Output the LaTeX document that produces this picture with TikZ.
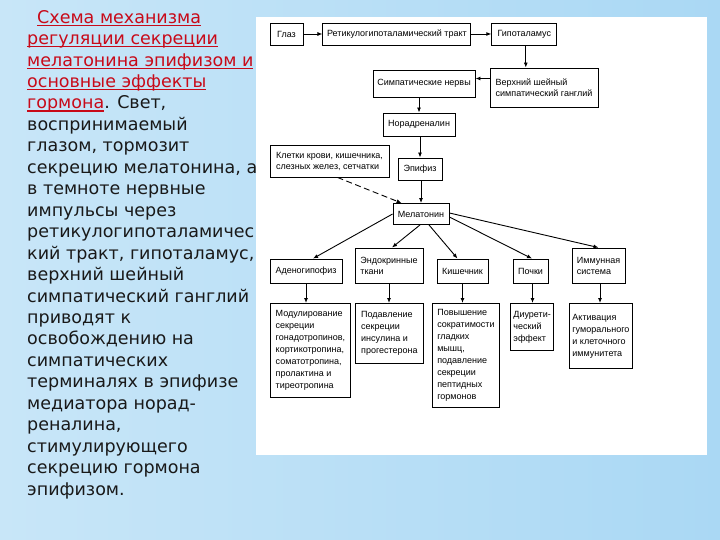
\documentclass[tikz,border=0pt]{standalone}
\usepackage{fontspec}
\setmainfont{DejaVu Sans}
\newfontfamily\boxfont{Liberation Sans}
\usepackage{xcolor}
\usetikzlibrary{arrows.meta,positioning}
\definecolor{titlered}{RGB}{200,10,25}
\definecolor{textdark}{RGB}{25,25,25}
\definecolor{bgleft}{RGB}{200,230,248}
\definecolor{bgright}{RGB}{170,216,244}
\newcommand\hl[1]{\textcolor{titlered}{\setbox0\hbox{#1}\rlap{\rule[-2.6pt]{\wd0}{1.1pt}}\box0}}

\begin{document}
\begin{tikzpicture}[x=1pt,y=-1pt,>={Latex[length=5pt,width=4pt]}]
\tikzstyle{box}=[rectangle,draw=black,line width=0.9pt,align=center,inner sep=2pt,font=\boxfont\fontsize{9}{11}\selectfont]
\tikzstyle{effect}=[box,align=left,anchor=north west,inner xsep=3pt,inner ysep=5pt,font=\boxfont\fontsize{9}{12}\selectfont]
\tikzstyle{link}=[->,line width=0.9pt]
\useasboundingbox (0,0) rectangle (720,540);
\shade[left color=bgleft,middle color=white,right color=bgright] (0,0) rectangle (720,540);
\fill[white] (256,17) rectangle (707,455);

\node[anchor=north west,align=left,inner sep=0pt,text=textdark,font=\fontsize{17.5}{21.45}\selectfont] (caption) at (27,10)
{\hspace*{10pt}\hl{Схема механизма}\\
\hl{регуляции секреции}\\
\hl{мелатонина эпифизом и}\\
\hl{основные эффекты}\\
\hl{гормона}. Свет,\\
воспринимаемый\\
глазом, тормозит\\
секрецию мелатонина, а\\
в темноте нервные\\
импульсы через\\
ретикулогипоталамичес\\
кий тракт, гипоталамус,\\
верхний шейный\\
симпатический ганглий\\
приводят к\\
освобождению на\\
симпатических\\
терминалях в эпифизе\\
медиатора норад-\\
реналина,\\
стимулирующего\\
секрецию гормона\\
эпифизом.};

\node[box,minimum width=33,minimum height=22] (glaz) at (286.5,34) {Глаз};
\node[box,minimum width=148,minimum height=22,right=19pt of glaz] (trakt) {Ретикулогипоталамический тракт};
\node[box,minimum width=65,minimum height=22,right=20pt of trakt] (gipo) {Гипоталамус};
\node[box,align=left,minimum width=108,minimum height=39] (gangl) at (544,87.5) {Верхний шейный\\симпатический ганглий};
\node[box,minimum width=102,minimum height=27] (nervy) at (424,83.5) {Симпатические нервы};
\node[box,minimum width=72,minimum height=23] (noradr) at (419,124.5) {Норадреналин};
\node[box,minimum width=44,minimum height=22] (epif) at (420,169) {Эпифиз};
\node[box,align=left,minimum width=119,minimum height=32] (kletki) at (329.5,161) {Клетки крови, кишечника,\\слезных желез, сетчатки};
\node[box,minimum width=56,minimum height=21] (melat) at (421,214) {Мелатонин};

\node[box,minimum width=72,minimum height=24] (adeno) at (306,271) {Аденогипофиз};
\node[box,align=left,minimum width=68,minimum height=35] (endo) at (389,265.5) {Эндокринные\\ткани};
\node[box,minimum width=51,minimum height=24] (kish) at (462.5,271) {Кишечник};
\node[box,minimum width=35,minimum height=24] (pochki) at (530.5,271) {Почки};
\node[box,align=left,minimum width=53,minimum height=35] (immun) at (598.5,265.5) {Иммунная\\система};

\node[effect,minimum width=80,minimum height=94] (modul) at (270,303) {Модулирование\\секреции\\гонадотропинов,\\кортикотропина,\\соматотропина,\\пролактина и\\тиреотропина};
\node[effect,minimum width=68,minimum height=60] (podav) at (355,303) {Подавление\\секреции\\инсулина и\\прогестерона};
\node[effect,minimum width=67,minimum height=104] (povysh) at (432,303) {Повышение\\сократимости\\гладких\\мышц,\\подавление\\секреции\\пептидных\\гормонов};
\node[effect,minimum width=43,minimum height=47] (diur) at (510,303) {Диурети-\\ческий\\эффект};
\node[effect,minimum width=59,minimum height=65] (aktiv) at (569,303) {Активация\\гуморального\\и клеточного\\иммунитета};

\coordinate (nin) at ([yshift=5pt]nervy.east);
\draw[link] (glaz) -- (trakt);
\draw[link] (trakt) -- (gipo);
\draw[link] ([xshift=1.5pt]gipo.south) -- ([xshift=1.5pt]gipo.south |- gangl.north);
\draw[link] (gangl.west |- nin) -- (nin);
\draw[link] (noradr.north |- nervy.south) -- (noradr.north);
\draw[link] (noradr.south -| epif.north) -- (epif.north);
\draw[link] (epif.south -| melat.north) -- (melat.north);
\draw[link,dash pattern=on 6pt off 3.5pt] ([xshift=8pt]kletki.south) -- ([xshift=9pt]melat.north west);
\draw[link] (melat.west) -- ([xshift=7pt]adeno.north);
\draw[link] ([xshift=-1pt]melat.south) -- ([xshift=3pt]endo.north);
\draw[link] ([xshift=8pt]melat.south) -- ([xshift=-5pt]kish.north);
\draw[link] ([yshift=-3pt]melat.east) -- ([xshift=1.5pt]pochki.north);
\draw[link] ([yshift=1pt]melat.east) -- (immun.north);
\draw[link] (adeno.south) -- (adeno.south |- modul.north);
\draw[link] (endo.south) -- (endo.south |- podav.north);
\draw[link] (kish.south) -- (kish.south |- povysh.north);
\draw[link] ([xshift=2pt]pochki.south) -- ([xshift=2pt]pochki.south |- diur.north);
\draw[link] ([xshift=1.5pt]immun.south) -- ([xshift=1.5pt]immun.south |- aktiv.north);
\end{tikzpicture}
\end{document}
